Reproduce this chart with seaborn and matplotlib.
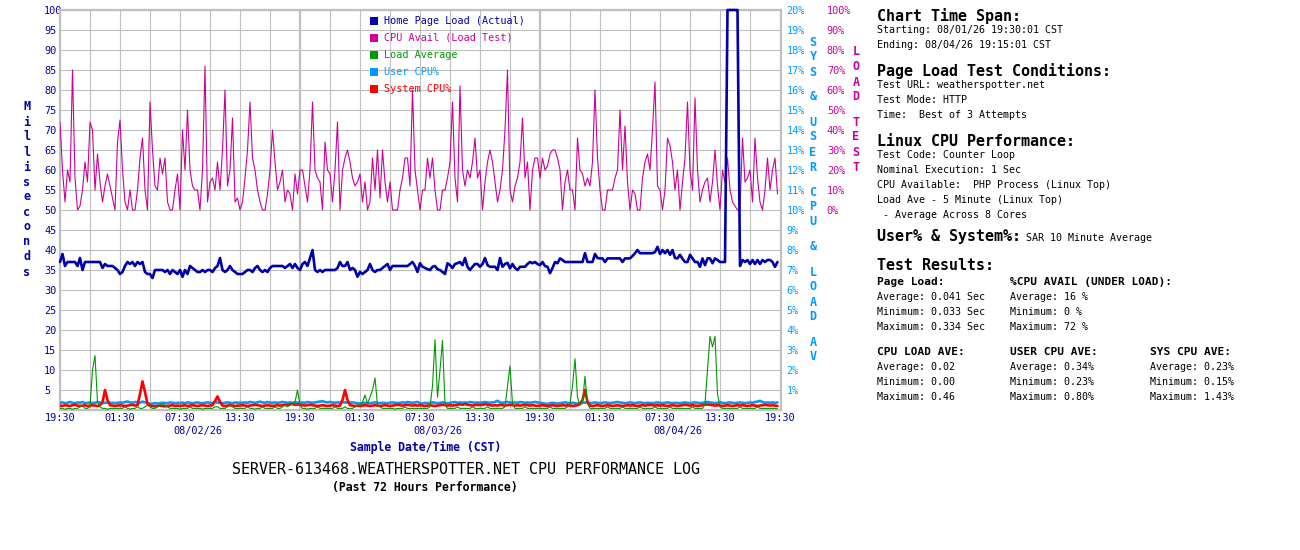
import numpy as np
import matplotlib
matplotlib.use("Agg")
import matplotlib.pyplot as plt
import seaborn as sns
from matplotlib.patches import Rectangle

# ---------------- data (15-minute samples, 08/01/26 19:30 -> 08/04/26 19:15) ----------------
PAGE_LOAD_MS = [
    37, 39, 36, 37, 37, 37, 37, 36, 38, 35, 37, 37, 37, 37, 37, 37, 37, 35.5, 36.5, 36, 36, 36, 35.5, 35,
    34, 34.5, 36, 37, 36.5, 37, 36, 37, 36.5, 37, 34.5, 34, 34, 33, 35, 35, 35, 35, 34.5, 35, 34, 35, 34.5, 34,
    35, 33.3, 35, 34, 36, 35.5, 35, 34.5, 34.5, 35, 34.5, 35, 35, 34.5, 35.5, 36, 38, 35, 34.5, 35, 36, 35, 34.5, 34,
    34, 34, 34.5, 35, 35, 34.5, 35.5, 36, 35, 34.5, 35, 34.5, 35.5, 36, 36, 36, 36, 36, 35.5, 36, 36.5, 35.5, 36.5, 35.5,
    35, 36.5, 37, 36, 38, 40, 35, 34.5, 35, 34.5, 35, 35, 35, 35, 35, 35.5, 37, 36, 36, 37, 35, 35.5, 35, 33.3,
    34.5, 34, 34.5, 35, 36.5, 35, 34.5, 35, 35, 35.5, 36, 36.5, 35, 36, 36, 36, 36, 36, 36, 36, 36.5, 37, 36, 34.5,
    36.7, 35.8, 35.5, 35.2, 35, 35.8, 36, 35.2, 35, 34.5, 34, 36.7, 36.2, 35.5, 36.5, 36.7, 37, 36.2, 38, 35.8, 35, 35.8, 36.5, 36.5,
    35.8, 36.5, 38, 36.2, 35.8, 35.8, 35.8, 35, 38, 35.8, 36.5, 36.8, 35.4, 36.5, 35.5, 35, 35.8, 35.8, 35.8, 36.5, 37, 36.7, 37, 36.5,
    36.2, 37, 36, 35.8, 34.2, 35.5, 37, 36.7, 37.9, 37.5, 37, 37, 37, 37, 37, 37, 37, 37, 39.2, 37, 37, 37, 39, 38,
    37.9, 37.9, 37, 37.9, 37.9, 37.9, 37.9, 37.9, 37.9, 37, 37.9, 37.9, 37.9, 38.5, 39.2, 40, 39.2, 39.2, 39.2, 39.2, 39.2, 39.2, 39.5, 40.8,
    39, 40, 39.2, 40, 38.8, 40, 38, 37.9, 38.8, 37.8, 37, 37, 38.8, 37.9, 37, 37, 35.8, 37.9, 36.2, 37.9, 37.9, 36.7, 37.9, 37.5,
    37, 37, 37, 150, 334, 300, 250, 150, 36, 37.5, 37, 37.5, 36.5, 37.5, 36.5, 37.5, 36.5, 37.5, 37, 37.5, 37.5, 37, 35.8, 37,
]

CPU_AVAIL_PCT = [
    44, 20, 4, 20, 14, 70, 16, 0, 2, 10, 24, 14, 44, 40, 10, 28, 14, 4, 12, 18, 12, 6, 0, 34,
    45, 20, 4, 0, 10, 0, 0, 10, 26, 36, 10, 0, 54, 30, 12, 10, 26, 18, 26, 4, 0, 0, 10, 18,
    0, 40, 20, 50, 20, 12, 10, 10, 0, 20, 72, 4, 14, 16, 10, 24, 10, 30, 60, 12, 20, 46, 4, 6,
    0, 4, 16, 30, 54, 26, 20, 10, 4, 0, 0, 8, 20, 40, 24, 10, 14, 20, 4, 10, 8, 0, 18, 8,
    20, 20, 12, 4, 20, 54, 20, 16, 14, 0, 34, 20, 18, 4, 20, 44, 0, 20, 26, 30, 24, 16, 12, 14,
    18, 4, 14, 0, 4, 26, 10, 30, 6, 30, 14, 4, 14, 0, 0, 0, 10, 16, 26, 26, 12, 60, 20, 10,
    0, 10, 10, 26, 16, 26, 10, 0, 0, 10, 10, 16, 24, 54, 16, 4, 62, 20, 12, 20, 16, 24, 36, 16,
    20, 0, 14, 24, 30, 24, 14, 4, 10, 20, 40, 70, 10, 4, 12, 16, 24, 46, 16, 24, 0, 20, 26, 26,
    16, 26, 20, 22, 28, 30, 30, 26, 20, 0, 14, 20, 10, 10, 0, 36, 20, 18, 12, 16, 12, 24, 60, 26,
    10, 0, 0, 10, 10, 10, 16, 20, 50, 20, 42, 14, 0, 10, 8, 0, 0, 16, 24, 28, 20, 40, 64, 12,
    10, 0, 10, 36, 32, 24, 10, 20, 0, 14, 26, 54, 20, 10, 56, 20, 4, 10, 14, 16, 4, 14, 30, 12,
    0, 20, 14, 26, 10, 4, 2, 0, 0, 36, 14, 16, 20, 4, 36, 16, 4, 0, 10, 26, 10, 20, 26, 8,
]

LOAD_AVERAGE = [
    .01, .01, .005, .01, .01, .005, .01, .01, .02, .03, .01, .01, .02, .25, .34, .05, .02, .01, .01, .005, .01, .01, .01, .01,
    .01, .01, .02, .01, .005, .01, .01, .02, .01, .01, .02, .03, .02, .01, .01, .02, .03, .04, .03, .02, .01, .01, .01, .01,
    .005, .01, .01, .01, .02, .01, .01, .01, .01, .005, .01, .01, .01, .01, .02, .02, .01, .01, .01, .02, .03, .02, .01, .01,
    .01, .01, .01, .02, .01, .01, .005, .01, .01, .02, .01, .01, .01, .01, .02, .01, .01, .02, .03, .02, .03, .04, .05, .125,
    .03, .01, .01, .005, .01, .01, .01, .02, .01, .01, .01, .01, .01, .01, .02, .01, .01, .01, .02, .01, .01, .01, .02, .03,
    .03, .05, .094, .04, .08, .125, .2, .03, .02, .01, .01, .01, .01, .01, .005, .01, .01, .01, .02, .01, .01, .01, .01, .01,
    .01, .01, .01, .01, .02, .15, .44, .08, .25, .435, .03, .01, .01, .01, .01, .02, .01, .01, .01, .01, .01, .02, .01, .01,
    .01, .01, .01, .02, .01, .01, .01, .01, .01, .01, .02, .15, .275, .04, .01, .01, .01, .01, .02, .01, .01, .01, .01, .01,
    .01, .01, .01, .01, .02, .01, .01, .01, .01, .01, .01, .02, .04, .15, .32, .08, .03, .05, .21, .04, .01, .01, .01, .01,
    .01, .01, .01, .02, .01, .01, .01, .01, .01, .02, .01, .01, .01, .01, .01, .01, .02, .01, .01, .01, .01, .01, .02, .01,
    .01, .01, .01, .01, .02, .01, .01, .01, .01, .01, .01, .01, .01, .02, .01, .01, .01, .01, .04, .25, .46, .395, .46, .1,
    .02, .01, .01, .01, .01, .01, .01, .01, .02, .01, .01, .01, .01, .01, .01, .02, .01, .01, .01, .01, .01, .01, .01, .01,
]

USER_CPU_PCT = [
    .36, .38, .34, .36, .40, .36, .34, .38, .36, .40, .34, .36, .38, .35, .36, .40, .37, .34, .36, .38, .35, .36, .34, .36,
    .38, .36, .40, .42, .38, .36, .40, .38, .36, .42, .38, .36, .30, .32, .34, .32, .34, .36, .35, .34, .38, .36, .34, .36,
    .35, .37, .34, .38, .36, .34, .36, .38, .35, .34, .36, .38, .36, .35, .40, .37, .36, .34, .36, .38, .36, .34, .38, .36,
    .37, .36, .38, .36, .40, .38, .36, .38, .42, .38, .36, .40, .37, .36, .38, .36, .38, .40, .38, .36, .38, .36, .38, .37,
    .36, .38, .36, .40, .38, .36, .38, .40, .42, .44, .40, .38, .40, .38, .36, .38, .36, .40, .38, .37, .36, .38, .36, .34,
    .33, .34, .36, .35, .34, .36, .38, .36, .34, .36, .35, .34, .36, .38, .36, .35, .36, .38, .36, .40, .38, .36, .38, .40,
    .34, .32, .36, .34, .36, .38, .36, .34, .36, .38, .36, .34, .36, .38, .40, .36, .38, .36, .38, .36, .40, .38, .36, .38,
    .36, .38, .40, .38, .36, .38, .40, .46, .38, .36, .38, .40, .38, .36, .38, .36, .40, .38, .36, .38, .36, .38, .40, .38,
    .36, .34, .32, .30, .34, .36, .34, .32, .34, .36, .38, .36, .34, .36, .34, .32, .34, .36, .38, .36, .34, .36, .38, .36,
    .34, .36, .38, .36, .34, .36, .38, .40, .38, .36, .34, .36, .38, .36, .34, .36, .38, .36, .34, .36, .35, .34, .36, .38,
    .36, .34, .36, .38, .36, .34, .36, .35, .34, .36, .38, .36, .34, .36, .38, .36, .34, .36, .38, .40, .38, .36, .34, .36,
    .38, .36, .34, .36, .38, .36, .34, .36, .38, .36, .34, .36, .38, .36, .40, .42, .46, .40, .36, .38, .36, .38, .36, .38,
]

SYSTEM_CPU_PCT = [
    .22, .20, .24, .22, .20, .24, .26, .22, .20, .22, .24, .20, .22, .24, .22, .20, .24, .40, 1.00, .50, .24, .22, .20, .22,
    .24, .22, .20, .22, .24, .26, .22, .24, .80, 1.43, .90, .30, .22, .20, .18, .20, .22, .20, .18, .20, .22, .24, .20, .22,
    .20, .22, .24, .20, .22, .24, .22, .20, .22, .24, .22, .20, .22, .24, .45, .68, .40, .22, .20, .22, .24, .22, .20, .22,
    .22, .24, .22, .20, .22, .24, .26, .24, .22, .20, .22, .24, .22, .20, .22, .24, .22, .24, .26, .24, .28, .30, .26, .28,
    .26, .24, .22, .24, .26, .24, .22, .20, .22, .24, .22, .20, .22, .24, .22, .20, .22, .50, 1.00, .50, .24, .22, .20, .22,
    .20, .22, .24, .22, .20, .22, .24, .22, .20, .22, .24, .22, .20, .22, .24, .26, .24, .22, .24, .26, .24, .22, .24, .22,
    .24, .22, .20, .22, .24, .22, .20, .22, .24, .26, .24, .22, .24, .22, .24, .26, .28, .26, .30, .26, .24, .22, .24, .26,
    .24, .26, .30, .26, .24, .22, .24, .22, .26, .24, .22, .24, .26, .24, .22, .24, .22, .24, .26, .24, .22, .24, .22, .20,
    .22, .24, .22, .20, .22, .24, .22, .20, .22, .24, .22, .24, .22, .20, .22, .24, .30, .50, 1.00, .40, .22, .20, .22, .24,
    .22, .20, .22, .24, .22, .20, .22, .24, .22, .20, .22, .24, .22, .24, .22, .20, .22, .24, .22, .24, .26, .24, .22, .24,
    .22, .24, .22, .20, .22, .24, .22, .20, .22, .24, .26, .24, .22, .24, .22, .20, .22, .24, .26, .28, .26, .24, .22, .24,
    .22, .20, .22, .24, .22, .20, .22, .24, .22, .24, .22, .20, .22, .24, .22, .20, .22, .24, .26, .24, .22, .24, .22, .20,
]

CORES = 8
MS_CAP = 100
X_TICK_LABELS = ["19:30", "01:30", "07:30", "13:30"] * 3 + ["19:30"]
DATE_LABELS = ["08/02/26", "08/03/26", "08/04/26"]
DATE_POS_H = [13.8, 37.8, 61.8]
MS_TICKS = list(range(5, 101, 5))
CPU_TICKS = list(range(1, 21))
LOADTEST_TICKS = list(range(0, 101, 10))
LEGEND = [("Home Page Load (Actual)", "#0000aa"),
          ("CPU Avail (Load Test)", "#cc0099"),
          ("Load Average", "#009900"),
          ("User CPU%", "#0099ff"),
          ("System CPU%", "#ff0000")]

# ---------------- style ----------------
sns.set_theme(style="white")
plt.rcParams['font.family'] = ['DejaVu Sans Mono', 'DejaVu Sans']

DKBLUE = "#0000aa"
MAG = "#cc0099"
GREEN = "#009900"
CYAN = "#0099ff"
RED = "#ff0000"
GRID = "#c0c0c0"

W, H = 1300, 550
fig = plt.figure(figsize=(13, 5.5), dpi=100)
fig.patch.set_facecolor("white")


def fx(x):
    return x / W


def fy(y):
    return 1 - y / H


hours = np.arange(len(PAGE_LOAD_MS)) * 0.25

ax = fig.add_axes([fx(60), fy(410), 721 / W, 400 / H])
ax.set_facecolor("white")
ax.set_xlim(0, 72.1)
ax.set_ylim(0, 100)
ax.set_xticks(np.arange(0, 73, 6))
ax.set_xticklabels(X_TICK_LABELS)
ax.set_xticks(np.arange(3, 72, 6), minor=True)
ax.set_yticks(MS_TICKS)
ax.set_yticklabels([str(v) for v in MS_TICKS])
for lab in ax.get_yticklabels():
    lab.set_horizontalalignment("left")
ax.tick_params(axis="y", length=0, pad=11.5, labelsize=7.4, labelcolor=DKBLUE)
ax.tick_params(axis="x", which="both", length=0, pad=2.5, labelsize=7.4, labelcolor=DKBLUE)
ax.grid(True, which="both", color=GRID, linewidth=0.8)
ax.set_axisbelow(True)
for x in (24, 48):
    ax.axvline(x, color=GRID, linewidth=1.6, zorder=0.5)
for s in ax.spines.values():
    s.set_color(GRID)
    s.set_linewidth(1.6)

# load-test axis (CPU avail %)
ax_load = ax.twinx()
ax_load.set_ylim(-100, 100)
ax_load.set_yticks(LOADTEST_TICKS)
ax_load.set_yticklabels([f"{v}%" for v in LOADTEST_TICKS])
ax_load.tick_params(axis="y", length=0, pad=33, labelsize=7.4, labelcolor=MAG)
for s in ax_load.spines.values():
    s.set_visible(False)
sns.lineplot(x=hours, y=CPU_AVAIL_PCT, ax=ax_load, color=MAG, linewidth=0.8,
             estimator=None, errorbar=None)
ax_load.set_ylabel("")

# CPU / load-average axis
ax_cpu = ax.twinx()
ax_cpu.set_ylim(0, 20)
ax_cpu.set_yticks(CPU_TICKS)
ax_cpu.set_yticklabels([f"{v}%" for v in CPU_TICKS])
ax_cpu.tick_params(axis="y", length=0, pad=4, labelsize=7.4, labelcolor=CYAN)
for s in ax_cpu.spines.values():
    s.set_visible(False)
sns.lineplot(x=hours, y=USER_CPU_PCT, ax=ax_cpu, color=CYAN, linewidth=1.9,
             estimator=None, errorbar=None)
sns.lineplot(x=hours, y=SYSTEM_CPU_PCT, ax=ax_cpu, color=RED, linewidth=1.9,
             estimator=None, errorbar=None)
sns.lineplot(x=hours, y=np.array(LOAD_AVERAGE) * CORES, ax=ax_cpu, color=GREEN,
             linewidth=0.8, estimator=None, errorbar=None)
ax_cpu.set_ylabel("")

# page-load axis (same ms scale); values beyond the chart top are pinned to it
ax_ms = ax.twinx()
ax_ms.set_ylim(0, 100)
ax_ms.set_yticks([])
for s in ax_ms.spines.values():
    s.set_visible(False)
sns.lineplot(x=hours, y=np.minimum(PAGE_LOAD_MS, MS_CAP), ax=ax_ms, color=DKBLUE,
             linewidth=1.9, estimator=None, errorbar=None)
for ln in ax_ms.lines:
    ln.set_clip_on(False)
ax_ms.set_ylabel("")
ax_ms.set_xlim(0, 72.1)
ax.set_xlabel("")

# date labels under the time ticks
for pos, lab in zip(DATE_POS_H, DATE_LABELS):
    ax.text(pos, -0.0525, lab, transform=ax.get_xaxis_transform(), ha="center",
            va="center", fontsize=7.4, color=DKBLUE)

fig.text(fx(426), fy(447), "Sample Date/Time (CST)", ha="center", va="center",
         fontsize=8.3, fontweight="bold", color=DKBLUE)
fig.text(fx(466), fy(470), "SERVER-613468.WEATHERSPOTTER.NET CPU PERFORMANCE LOG",
         ha="center", va="center", fontsize=10.8, color="black")
fig.text(fx(425), fy(487), "(Past 72 Hours Performance)", ha="center", va="center",
         fontsize=8.3, fontweight="bold", color="black")


# stacked vertical axis titles
def stack(text, x, y0, color, step=15, space=10):
    y = y0
    for ch in text:
        if ch == " ":
            y += space
            continue
        fig.text(fx(x), fy(y), ch, ha="center", va="center", fontsize=8.5,
                 fontweight="bold", color=color)
        y += step


stack("Milliseconds", 27, 107, DKBLUE)
stack("SYS & USER CPU & LOAD AV", 813, 42, CYAN)
stack("LOAD TEST", 856, 52, MAG)

# legend
for k, (lab, col) in enumerate(LEGEND):
    yc = 21 + 17 * k
    fig.patches.append(Rectangle((fx(370), fy(yc + 4)), 8 / W, 8 / H,
                                 transform=fig.transFigure, facecolor=col,
                                 edgecolor="none", zorder=10))
    fig.text(fx(384), fy(yc), lab, ha="left", va="center", fontsize=7.3, color=col)

# right-hand info panel
H1 = dict(fontsize=10.8, fontweight="bold")
B = dict(fontsize=7.2)
S = dict(fontsize=8.0, fontweight="bold")
panel = [
    (877, 16, "Chart Time Span:", H1),
    (877, 30, "Starting: 08/01/26 19:30:01 CST", B),
    (877, 45, "Ending: 08/04/26 19:15:01 CST", B),
    (877, 71, "Page Load Test Conditions:", H1),
    (877, 85, "Test URL: weatherspotter.net", B),
    (877, 100, "Test Mode: HTTP", B),
    (877, 115, "Time:  Best of 3 Attempts", B),
    (877, 142, "Linux CPU Performance:", H1),
    (877, 155, "Test Code: Counter Loop", B),
    (877, 170, "Nominal Execution: 1 Sec", B),
    (877, 185, "CPU Available:  PHP Process (Linux Top)", B),
    (877, 200, "Load Ave - 5 Minute (Linux Top)", B),
    (877, 215, " - Average Across 8 Cores", B),
    (877, 237, "User% & System%:", H1),
    (1026, 238, "SAR 10 Minute Average", B),
    (877, 266, "Test Results:", H1),
    (877, 282, "Page Load:", S),
    (1010, 282, "%CPU AVAIL (UNDER LOAD):", S),
    (877, 297, "Average: 0.041 Sec", B),
    (877, 312, "Minimum: 0.033 Sec", B),
    (877, 327, "Maximum: 0.334 Sec", B),
    (1010, 297, "Average: 16 %", B),
    (1010, 312, "Minimum: 0 %", B),
    (1010, 327, "Maximum: 72 %", B),
    (877, 352, "CPU LOAD AVE:", S),
    (1010, 352, "USER CPU AVE:", S),
    (1150, 352, "SYS CPU AVE:", S),
    (877, 367, "Average: 0.02", B),
    (877, 382, "Minimum: 0.00", B),
    (877, 397, "Maximum: 0.46", B),
    (1010, 367, "Average: 0.34%", B),
    (1010, 382, "Minimum: 0.23%", B),
    (1010, 397, "Maximum: 0.80%", B),
    (1150, 367, "Average: 0.23%", B),
    (1150, 382, "Minimum: 0.15%", B),
    (1150, 397, "Maximum: 1.43%", B),
]
for x, y, t, st in panel:
    fig.text(fx(x), fy(y), t, ha="left", va="center", color="black", **st)

fig.savefig("out.png", dpi=100, facecolor="white")
